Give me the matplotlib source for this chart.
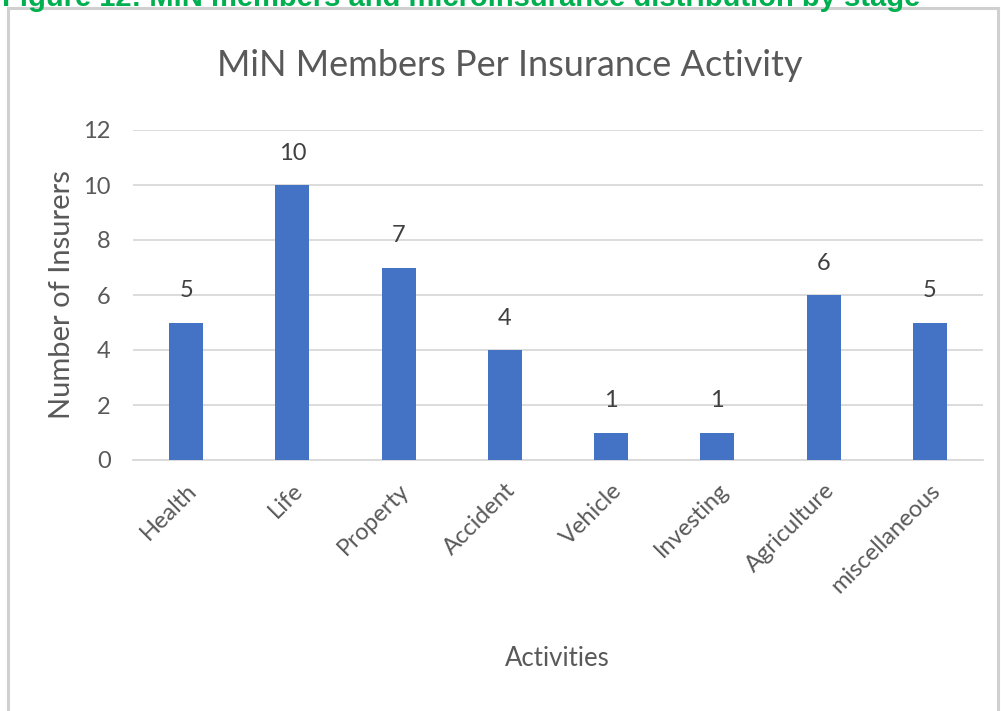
import matplotlib
matplotlib.use("Agg")
import matplotlib.pyplot as plt
from matplotlib.patches import Rectangle

categories = ["Health", "Life", "Property", "Accident", "Vehicle", "Investing", "Agriculture", "miscellaneous"]
values = [5, 10, 7, 4, 1, 1, 6, 5]
yticks = [0, 2, 4, 6, 8, 10, 12]

W, H = 1001, 711
fig = plt.figure(figsize=(W / 100, H / 100), dpi=100)
fig.patch.set_facecolor("white")

font = ["Lato", "DejaVu Sans"]
gray = "#595959"

# outer chart frame
fig.patches.append(Rectangle((8 / W, -0.01), (998 - 8) / W, 1 - 8 / H + 0.01,
                             transform=fig.transFigure, fill=False,
                             edgecolor="#d0d0d0", linewidth=2.2, zorder=0))

# clipped caption at top (cut off in the reference as well)
fig.text(2 / W, 1 - 6 / H, "Figure 12: MiN members and microinsurance distribution by stage",
         color="#00B050", fontsize=21, fontweight="bold", family=["Liberation Sans", "DejaVu Sans"],
         ha="left", va="baseline")

ax = fig.add_axes([133 / W, 1 - 460 / H, (983 - 133) / W, (460 - 130) / H])
x = list(range(len(categories)))
ax.bar(x, values, width=0.32, color="#4472C4", zorder=3)
ax.set_xlim(-0.5, len(categories) - 0.5)
ax.set_ylim(0, 12)
ax.set_yticks(yticks)
ax.set_yticklabels([str(t) for t in yticks], family=font, fontsize=17, color=gray)
ax.set_xticks(x)
ax.set_xticklabels(categories, rotation=45, ha="right", rotation_mode="anchor",
                   family=font, fontsize=17, color=gray)
ax.tick_params(axis="both", length=0)
ax.tick_params(axis="y", pad=16)
ax.tick_params(axis="x", pad=14)
ax.grid(axis="y", color="#d9d9d9", linewidth=1.3, zorder=0)
for s in ["top", "right", "left"]:
    ax.spines[s].set_visible(False)
ax.spines["bottom"].set_color("#d9d9d9")
ax.spines["bottom"].set_linewidth(1.3)

for xi, v in zip(x, values):
    ax.text(xi, v + 1.15, str(v), ha="center", va="center", family=font, fontsize=17, color="#404040")

fig.text(62 / W, 1 - 295 / H, "Number of Insurers", rotation=90, ha="center", va="center",
         family=font, fontsize=21, color=gray)
fig.text(557 / W, 1 - 658 / H, "Activities", ha="center", va="center",
         family=font, fontsize=18.5, color=gray)
fig.text(510 / W, 1 - 65 / H, "MiN Members Per Insurance Activity", ha="center", va="center",
         family=font, fontsize=26, color=gray)

fig.savefig("out.png", dpi=100, facecolor="white")
